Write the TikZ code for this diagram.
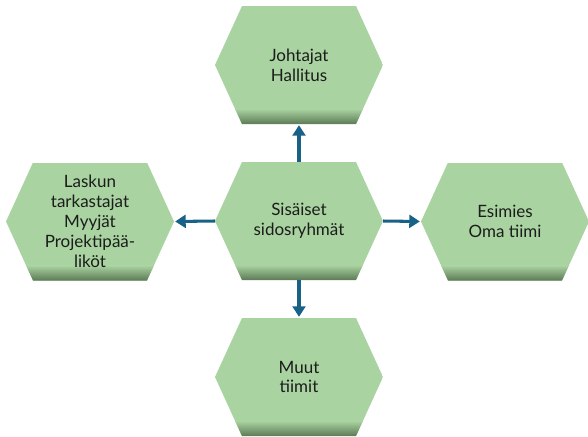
\documentclass[tikz,border=0pt]{standalone}
\usepackage{fontspec}
\setmainfont{Lato}
\usetikzlibrary{arrows.meta}
\definecolor{hexgreen}{RGB}{169,211,160}
\definecolor{hexshade}{RGB}{92,122,86}
\definecolor{linkblue}{RGB}{24,98,135}
\definecolor{textgray}{RGB}{28,28,28}
\tikzset{
  hexa/.style={minimum width=5.04cm, minimum height=3.54cm, inner sep=0pt, outer sep=0pt,
    align=center, text=textgray, font=\fontsize{14.5}{17}\selectfont,
    path picture={
      \begin{scope}
        \clip ([xshift=0.81cm]path picture bounding box.north west) -- ([xshift=-0.81cm]path picture bounding box.north east)
          -- (path picture bounding box.east) -- ([xshift=-0.81cm]path picture bounding box.south east)
          -- ([xshift=0.81cm]path picture bounding box.south west) -- (path picture bounding box.west) -- cycle;
        \fill[hexgreen] (path picture bounding box.south west) rectangle (path picture bounding box.north east);
        \shade[top color=hexgreen, bottom color=hexshade] ([yshift=0.45cm]path picture bounding box.south west) rectangle (path picture bounding box.south east);
      \end{scope}}},
  link/.style={draw=linkblue, line width=2.6pt, shorten >=1pt, -{Triangle[length=9pt,width=11pt]}}
}

\begin{document}
\begin{tikzpicture}[x=0.03cm,y=-0.03cm]
      \useasboundingbox (0,0) rectangle (588,436);
      \node[name=sisaiset, hexa] at (299,221){Sisäiset\\sidosryhmät};
      \node[name=johtajat, hexa] at (299,65){Johtajat\\Hallitus};
      \node[name=laskun, hexa] at (90,221.5){Laskun\\tarkastajat\\Myyjät\\Projektipää-\\liköt};
      \node[name=esimies, hexa] at (505,221.5){Esimies\\Oma tiimi};
      \node[name=muut, hexa] at (299,377){Muut\\tiimit};
      \draw[link] (sisaiset.north) -- (johtajat.south);
      \draw[link] (sisaiset.west) -- (laskun.east);
      \draw[link] (sisaiset.east) -- (esimies.west);
      \draw[link] (sisaiset.south) -- (muut.north);
   \end{tikzpicture}
\end{document}
